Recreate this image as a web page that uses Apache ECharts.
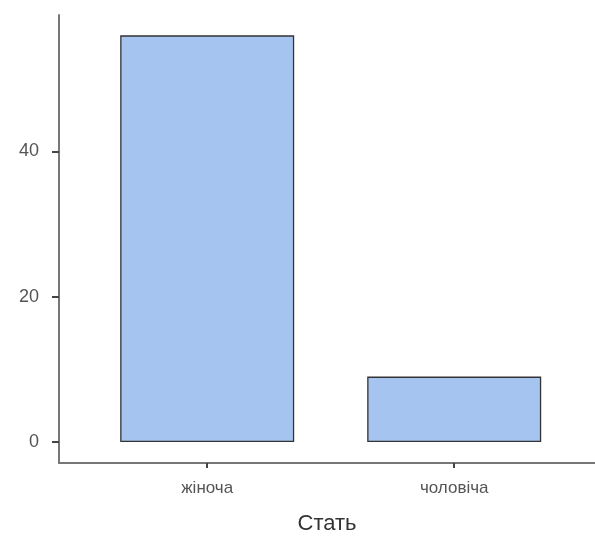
<!DOCTYPE html>
<html>
<head>
<meta charset="utf-8">
<script src="https://cdn.jsdelivr.net/npm/echarts@6/dist/echarts.min.js"></script>
<style>
  html, body { margin: 0; padding: 0; background: #fff; }
  #chart { width: 595px; height: 537px; }
</style>
</head>
<body>
<div id="chart"></div>
<script>
// categories and counts
const categories = ['жіноча', 'чоловіча']
const counts = [56, 9]
const yTicks = [0, 20, 40]

let myChart = echarts.init(document.getElementById('chart'))
myChart.setOption({
  animation: false,
  grid: {
    left: 59,
    right: 0,
    top: 15,
    bottom: 74,
    outerBoundsMode: 'none'
  },
  xAxis: {
    type: 'value',
    min: 0.4,
    max: 2.57,
    name: 'Стать',
    nameLocation: 'middle',
    nameGap: 50,
    nameTextStyle: {
      color: '#333',
      fontSize: 22,
      fontFamily: 'Liberation Sans'
    },
    splitLine: { show: false },
    axisLine: {
      onZero: false,
      lineStyle: { color: '#777', width: 2 }
    },
    axisTick: {
      customValues: [1, 2],
      length: 5,
      lineStyle: { color: '#444', width: 2 }
    },
    axisLabel: {
      customValues: [1, 2],
      formatter: function (v) { return categories[Math.round(v) - 1] },
      color: '#555',
      fontSize: 17,
      margin: 17,
      fontFamily: 'Liberation Sans'
    }
  },
  yAxis: {
    type: 'value',
    min: -2.9,
    max: 58.8,
    splitLine: { show: false },
    axisLine: {
      show: true,
      onZero: false,
      lineStyle: { color: '#777', width: 2 }
    },
    axisTick: {
      show: true,
      customValues: yTicks,
      length: 7,
      lineStyle: { color: '#444', width: 2 }
    },
    axisLabel: {
      customValues: yTicks,
      color: '#555',
      fontSize: 18,
      margin: 20,
      fontFamily: 'Liberation Sans'
    }
  },
  series: [
    {
      type: 'bar',
      barWidth: 174,
      data: counts.map(function (v, i) { return [i + 1, v] }),
      itemStyle: {
        color: '#a6c4f0',
        borderColor: '#333',
        borderWidth: 1.3
      }
    }
  ]
})
</script>
</body>
</html>
